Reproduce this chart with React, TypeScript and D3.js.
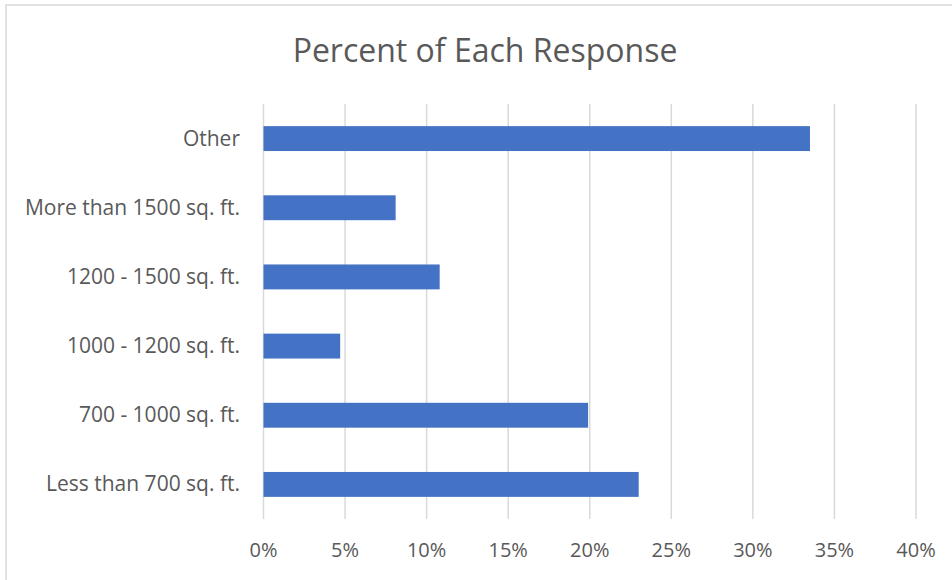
import React from "react";
import * as d3 from "d3";

const categories = [
  "Other",
  "More than 1500 sq. ft.",
  "1200 - 1500 sq. ft.",
  "1000 - 1200 sq. ft.",
  "700 - 1000 sq. ft.",
  "Less than 700 sq. ft.",
];
const values = [0.335, 0.081, 0.108, 0.047, 0.199, 0.23];
const ticks = [0, 0.05, 0.1, 0.15, 0.2, 0.25, 0.3, 0.35, 0.4];
const title = "Percent of Each Response";

const W = 952;
const H = 580;
const FONT = "'Open Sans', Lato, sans-serif";

export default function App() {
  const x = d3.scaleLinear().domain([0, 0.4]).range([263.5, 916]);
  const y = d3
    .scaleBand<string>()
    .domain(categories)
    .range([104, 519])
    .paddingInner(0.64)
    .paddingOuter(0.32);
  const fmt = d3.format(".0%");
  return (
    <svg
      width={W}
      height={H}
      style={{ position: "absolute", left: 0, top: 0, background: "#fff" }}
    >
      <rect x={6} y={5} width={W + 10} height={H + 10} fill="#fff" stroke="#d9d9d9" strokeWidth={1.5} />
      <text
        x={485}
        y={62}
        textAnchor="middle"
        fontFamily={FONT}
        fontSize={32}
        fill="#595959"
      >
        {title}
      </text>
      {ticks.map((t) => (
        <g key={t}>
          <line x1={x(t)} x2={x(t)} y1={104} y2={519} stroke="#d9d9d9" strokeWidth={1.5} />
          <text
            x={x(t)}
            y={557}
            textAnchor="middle"
            fontFamily={FONT}
            fontSize={20}
            fill="#595959"
          >
            {fmt(t)}
          </text>
        </g>
      ))}
      {categories.map((c, i) => (
        <g key={c}>
          <rect
            x={x(0)}
            y={y(c)}
            width={x(values[i]) - x(0)}
            height={y.bandwidth()}
            fill="#4472c4"
          />
          <text
            x={240}
            y={(y(c) as number) + y.bandwidth() / 2 + 7}
            textAnchor="end"
            fontFamily={FONT}
            fontSize={21}
            fill="#595959"
          >
            {c}
          </text>
        </g>
      ))}
    </svg>
  );
}
